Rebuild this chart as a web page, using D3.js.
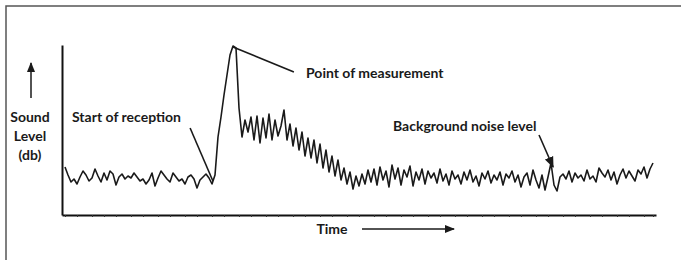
<!DOCTYPE html>
<html>
  <head>
    <meta charset="utf-8">
    <script src="https://d3js.org/d3.v7.min.js"></script>
    <title>Sound level over time</title>
    <style>
      body { margin: 0; background: #fff; }
      text { font-family: Lato, "Open Sans", sans-serif; font-weight: bold; fill: #1a1a1a; }
    </style>
  </head>
  <body>
    <div id="plot"></div>
    <script>

    // sound level samples, one per time step (arbitrary units)
    const quietLevels = [48, 40, 33, 36, 31, 38, 44, 40, 34, 37, 46, 39, 33, 42, 35, 44, 41, 30, 38, 41,
                         36, 39, 37, 42, 38, 34, 36, 31, 35, 42, 29, 37, 44, 40, 36, 33, 42, 38, 34, 36,
                         31, 38, 40, 36, 27, 35, 38, 41, 37, 31];
    const riseLevels = [40, 78, 98, 120, 140, 160, 169, 167];
    const decayLevels = [107, 78, 95, 83, 98, 75, 99, 72, 97, 77, 101, 75, 95, 79, 89, 105, 75, 91, 69, 87,
                         65, 83, 59, 77, 57, 75, 52, 71, 47, 65, 43, 59, 39, 55, 35, 47, 31, 43, 26, 39,
                         29, 41, 31, 45];
    const backgroundLevels = [33, 46, 30, 48, 35, 44, 28, 50, 36, 47, 30, 45, 38, 49, 29, 43, 35, 46, 31, 44,
                              37, 42, 32, 46, 34, 41, 30, 44, 36, 40, 31, 43, 35, 45, 33, 39, 29, 42, 36, 44,
                              32, 40, 35, 43, 30, 41, 37, 44, 33, 40, 28, 38, 42, 30, 45, 35, 27, 40, 25, 38,
                              52, 30, 24, 38, 41, 36, 44, 33, 42, 37, 40, 34, 45, 36, 39, 33, 47, 42, 38, 45,
                              35, 43, 31, 40, 46, 37, 44, 39, 34, 45, 41, 48, 37, 46, 52];
    const levels = quietLevels.concat(riseLevels, decayLevels, backgroundLevels);

    // tick positions along the time axis
    const timeTicks = [1, 5, 10, 14, 18, 23, 27, 32, 36, 41, 45, 50, 54, 59, 63, 68, 72, 77, 81, 86, 90, 95,
                       99, 104, 108, 113, 117, 122, 126, 131, 135, 140, 144, 149, 153, 158, 162, 167, 171,
                       176, 180, 185, 189, 194, 197];

    // annotations: label text and pointer from [time, level] to [time, level]
    const annotations = [
      {label: "Start of reception", from: [42.7, 87], to: [50.3, 34], arrow: false},
      {label: "Point of measurement", from: [57, 168], to: [77.3, 143], arrow: false},
      {label: "Background noise level", from: [159, 80], to: [163.7, 48], arrow: true}
    ];

    const W = 681, H = 260;

    let svg = d3.select("#plot")
      .append("svg")
        .attr("width", W)
        .attr("height", H);

    svg.append("defs").append("marker")
        .attr("id", "head")
        .attr("viewBox", "0 0 10 10")
        .attr("refX", 9).attr("refY", 5)
        .attr("markerWidth", 7).attr("markerHeight", 7)
        .attr("orient", "auto")
      .append("path")
        .attr("d", "M0,1 L10,5 L0,9 Z")
        .attr("fill", "#1a1a1a");

    // frame (only top and left edges are visible)
    svg.append("path")
      .attr("d", "M6," + H + " L6,6 L" + W + ",6")
      .attr("fill", "none")
      .attr("stroke", "#555")
      .attr("stroke-width", 1.5);

    // scales
    const x = d3.scaleLinear().domain([0, 198]).range([62, 656]);
    const y = d3.scaleLinear().domain([0, 170]).range([215, 45]);

    // x axis with small ticks, no labels
    svg.append("g")
      .attr("transform", "translate(0," + y(0) + ")")
      .call(d3.axisBottom(x).tickValues(timeTicks).tickSize(2).tickSizeOuter(0).tickFormat(""))
      .call(g => g.select(".domain").attr("stroke", "#111").attr("stroke-width", 2))
      .call(g => g.selectAll(".tick line").attr("stroke", "#333"));

    // y axis: bare line
    svg.append("g")
      .attr("transform", "translate(" + x(0) + ",0)")
      .call(d3.axisLeft(y).tickValues([]).tickSizeOuter(0))
      .call(g => g.select(".domain").attr("stroke", "#111").attr("stroke-width", 2));

    // the sound level trace
    const line = d3.line()
      .x((d, i) => x(i + 1))
      .y(d => y(d));

    svg.append("path")
      .datum(levels)
      .attr("d", line)
      .attr("fill", "none")
      .attr("stroke", "#1a1a1a")
      .attr("stroke-width", 1.6)
      .attr("stroke-linejoin", "round");

    // annotation pointers
    svg.selectAll(".pointer")
      .data(annotations)
      .enter()
      .append("line")
        .attr("class", "pointer")
        .attr("x1", d => x(d.from[0]))
        .attr("y1", d => y(d.from[1]))
        .attr("x2", d => x(d.to[0]))
        .attr("y2", d => y(d.to[1]))
        .attr("stroke", "#1a1a1a")
        .attr("stroke-width", 1.6)
        .attr("marker-end", d => d.arrow ? "url(#head)" : null);

    // annotation labels
    const labelPos = [[72, 122], [306, 78], [393, 131]];
    svg.selectAll(".note")
      .data(annotations)
      .enter()
      .append("text")
        .attr("class", "note")
        .attr("x", (d, i) => labelPos[i][0])
        .attr("y", (d, i) => labelPos[i][1])
        .style("font-size", "14px")
        .text(d => d.label);

    // y label with arrow
    svg.append("line")
      .attr("x1", 31).attr("y1", 98)
      .attr("x2", 31).attr("y2", 63)
      .attr("stroke", "#1a1a1a")
      .attr("stroke-width", 1.5)
      .attr("marker-end", "url(#head)");

    const ylab = svg.append("text")
      .attr("text-anchor", "middle")
      .style("font-size", "14px");
    ["Sound", "Level", "(db)"].forEach((t, i) => {
      ylab.append("tspan").attr("x", 30).attr("y", 122 + i * 19).text(t);
    });

    // x label with arrow
    svg.append("text")
      .text("Time")
      .attr("x", 332)
      .attr("y", 234)
      .attr("text-anchor", "middle")
      .style("font-size", "14px");

    svg.append("line")
      .attr("x1", 362).attr("y1", 229)
      .attr("x2", 454).attr("y2", 229)
      .attr("stroke", "#1a1a1a")
      .attr("stroke-width", 1.5)
      .attr("marker-end", "url(#head)");

    </script>
  </body>
</html>
